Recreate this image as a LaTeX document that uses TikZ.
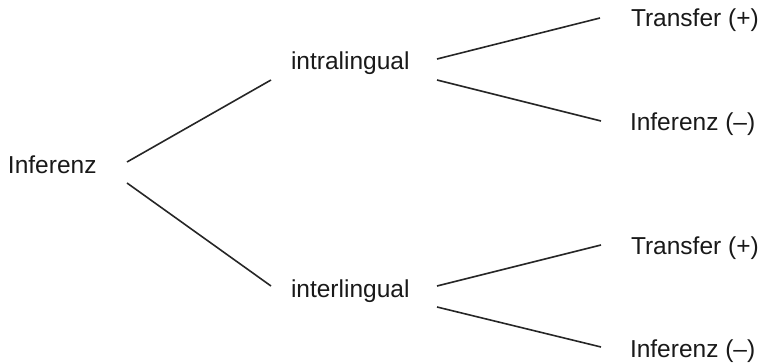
\documentclass[tikz,border=0pt]{standalone}
\usepackage{fontspec}
\setmainfont{Liberation Sans}

\tikzset{
  lbl/.style={inner sep=0pt, outer sep=0pt, anchor=base west,
    font=\fontsize{24.5}{29}\selectfont, text=black!90},
  branch/.style={line width=1.6pt, draw=black!85}
}

\begin{document}
\begin{tikzpicture}[x=1pt, y=-1pt]
\useasboundingbox (0,0) rectangle (761,363);
% labels
\node[lbl] (inf)    at (8,174)   {Inferenz};
\node[lbl] (intra)  at (291,70)  {intralingual};
\node[lbl] (inter)  at (291,298) {interlingual};
\node[lbl] (intraT) at (631,27)  {Transfer (+)};
\node[lbl] (intraI) at (630,131) {Inferenz (–)};
\node[lbl] (interT) at (631,255) {Transfer (+)};
\node[lbl] (interI) at (630,358) {Inferenz (–)};
% branches
\draw[branch] ([shift={(119,-12)}]inf.base west) -- ([shift={(-20,10)}]intra.base west);
\draw[branch] ([shift={(119,9)}]inf.base west) -- ([shift={(-20,-12)}]inter.base west);
\draw[branch] ([shift={(146,-11)}]intra.base west) -- ([shift={(-31,-9)}]intraT.base west);
\draw[branch] ([shift={(146,10)}]intra.base west) -- ([shift={(-29,-10)}]intraI.base west);
\draw[branch] ([shift={(146,-12)}]inter.base west) -- ([shift={(-30,-10)}]interT.base west);
\draw[branch] ([shift={(146,9)}]inter.base west) -- ([shift={(-29,-11)}]interI.base west);
\end{tikzpicture}
\end{document}
